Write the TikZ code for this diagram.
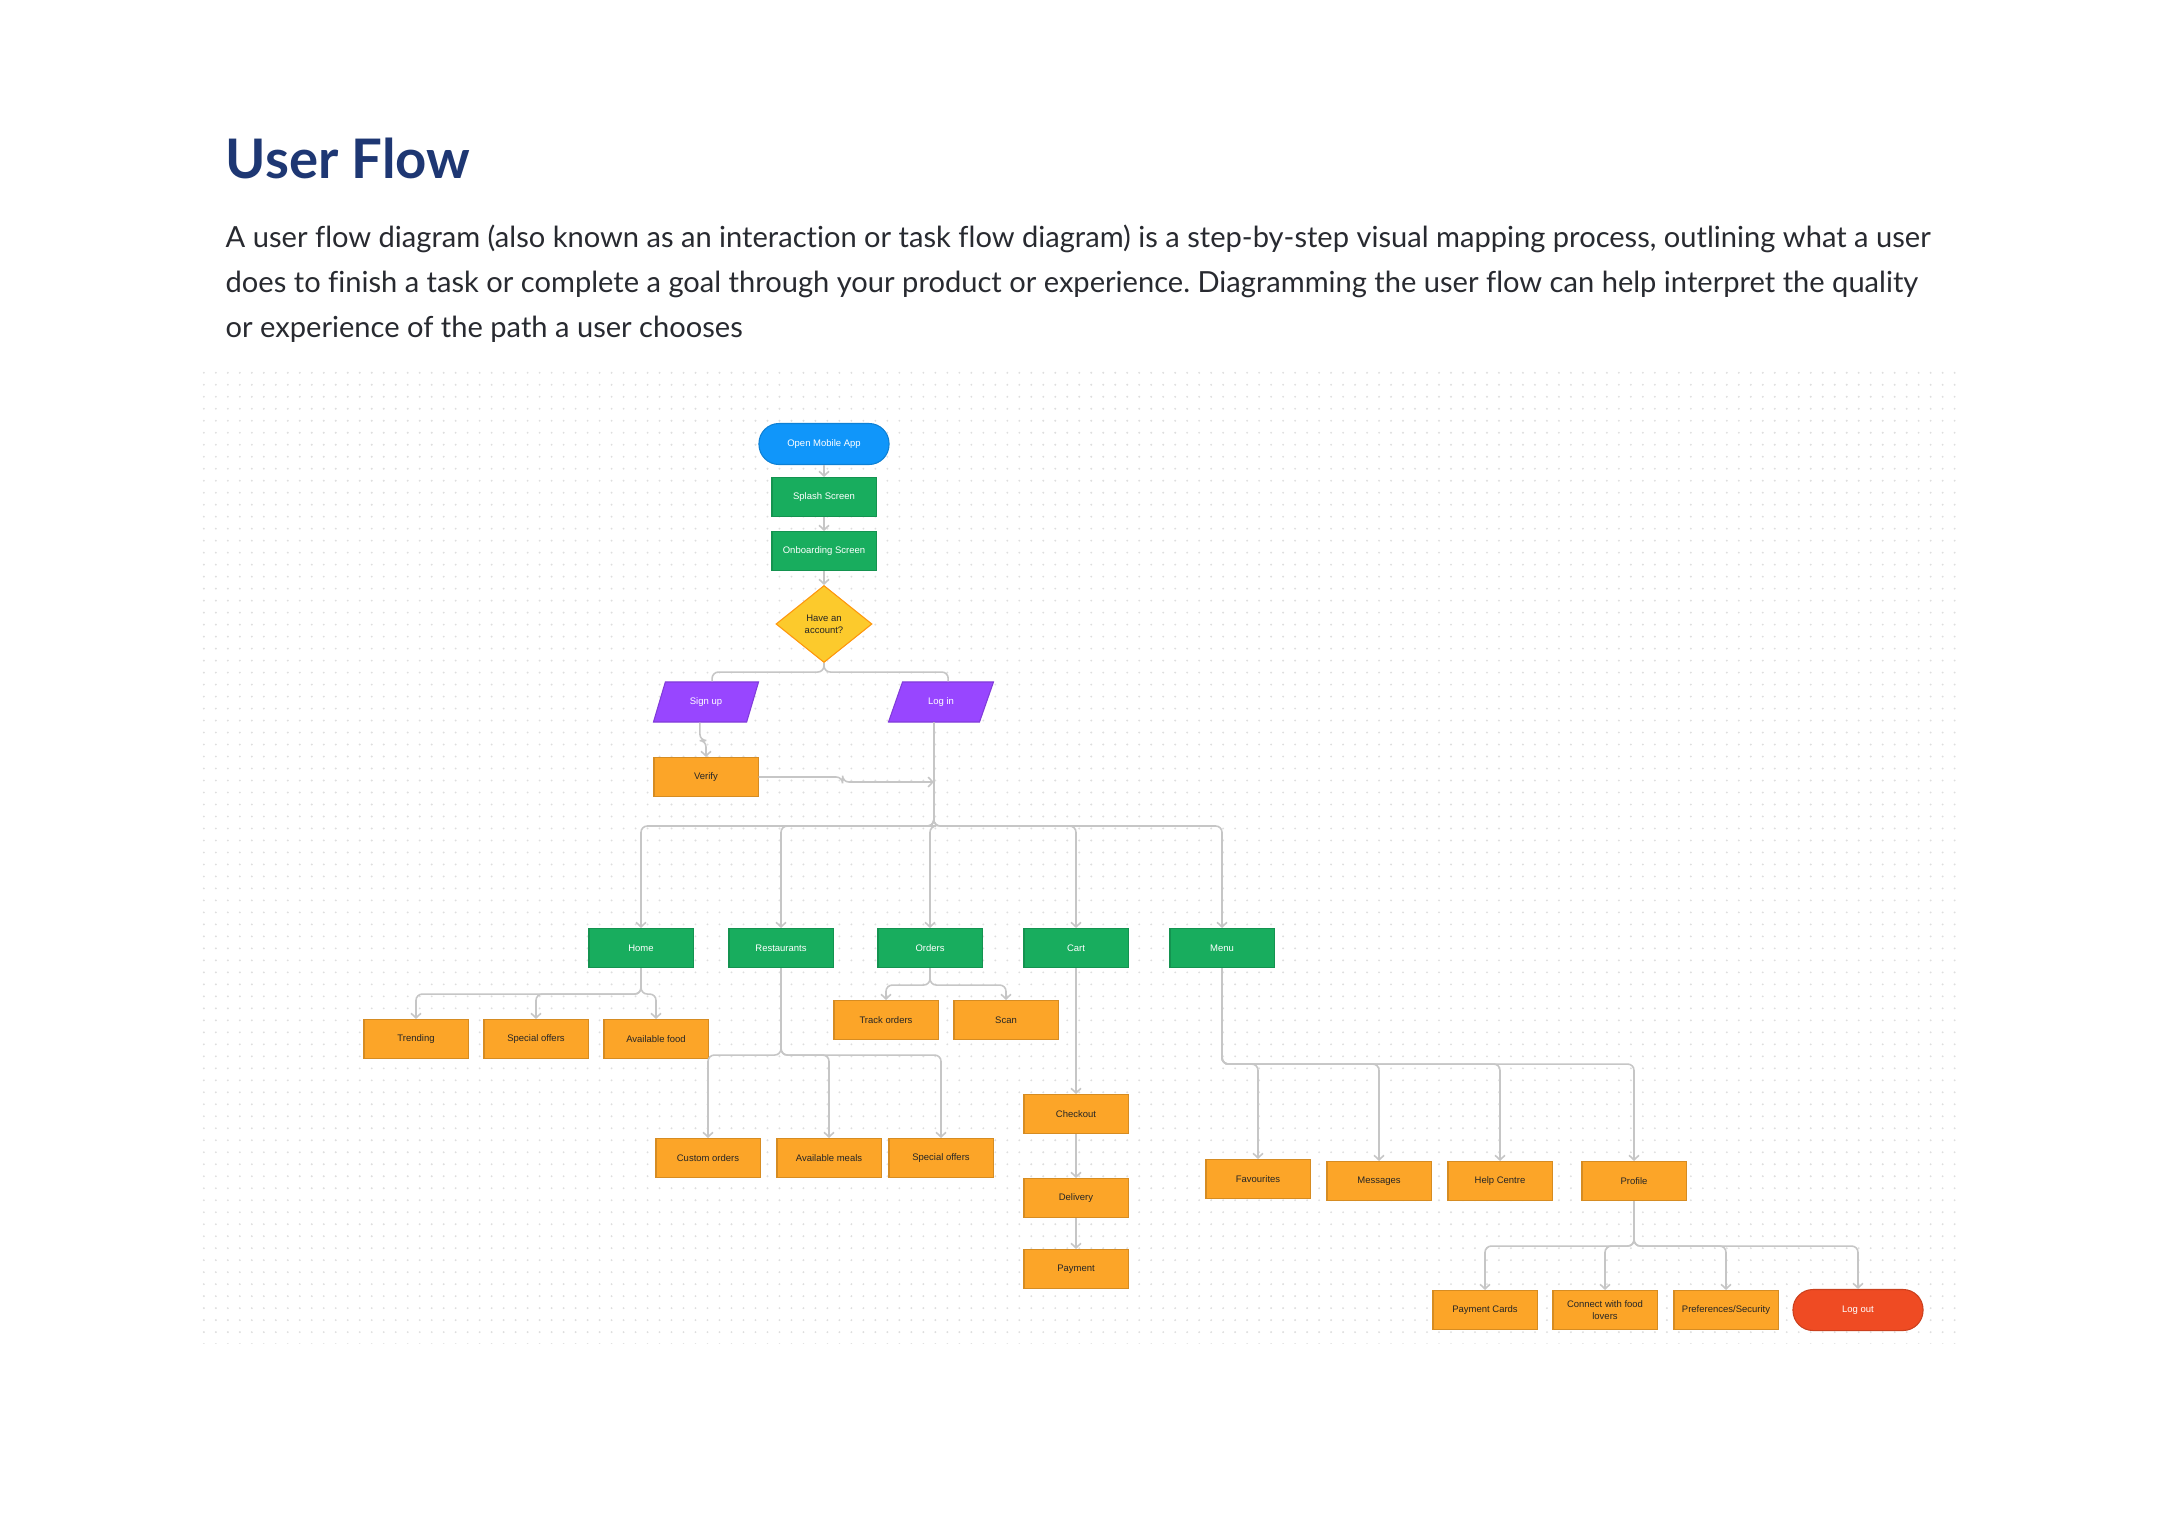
\documentclass[tikz,border=0pt]{standalone}
\usepackage{fontspec}
\setmainfont{Lato}[Ligatures=NoCommon]
\newfontfamily\boxfont{Liberation Sans}
\usepackage{xcolor}
\usepackage{tikz}
\usetikzlibrary{arrows.meta,positioning,shapes.geometric,calc,patterns.meta}
\frenchspacing
\definecolor{titleblue}{RGB}{30,55,115}
\definecolor{bodygray}{RGB}{40,42,48}
\definecolor{appblue}{RGB}{16,150,250}
\definecolor{screengreen}{RGB}{24,173,94}
\definecolor{askyellow}{RGB}{252,202,44}
\definecolor{authpurple}{RGB}{152,70,255}
\definecolor{itemorange}{RGB}{252,165,40}
\definecolor{quitred}{RGB}{239,75,35}
\definecolor{wiregray}{RGB}{198,198,198}
\definecolor{dotgray}{RGB}{222,222,222}
\tikzdeclarepattern{
  name=canvasdots,
  type=uncolored,
  bottom left={(-.5pt,-.5pt)},
  top right={(.5pt,.5pt)},
  tile size={(3.41pt,3.41pt)},
  code={\fill (0pt,0pt) circle (.3pt);}
}

\begin{document}
\begin{tikzpicture}[x=0.01cm,y=-0.01cm,
  boxtext/.style={font=\boxfont\fontsize{2.7pt}{3.3pt}\selectfont,inner sep=0pt,align=center},
  screen/.style={boxtext,rectangle,fill=screengreen,draw=screengreen!85!black,line width=0.3pt,text=white,minimum width=1.04cm,minimum height=0.39cm},
  item/.style={boxtext,rectangle,fill=itemorange,draw=itemorange!85!black,line width=0.3pt,text=black!85,minimum width=1.04cm,minimum height=0.39cm},
  terminal/.style={boxtext,rectangle,rounded corners=0.2cm,line width=0.3pt,text=white,minimum width=1.3cm,minimum height=0.41cm},
  auth/.style={boxtext,trapezium,trapezium left angle=62,trapezium right angle=118,trapezium stretches=true,fill=authpurple,draw=authpurple!85!black,line width=0.3pt,text=white,minimum width=1.05cm,minimum height=0.40cm},
  ask/.style={boxtext,diamond,fill=askyellow,draw=orange!70!askyellow,line width=0.3pt,text=black!85,minimum width=0.96cm,minimum height=0.77cm},
  bodyline/.style={anchor=base west,text=bodygray,font=\fontsize{8.27pt}{12pt}\selectfont,inner sep=0pt},
  wire/.style={draw=wiregray,line width=0.45pt,rounded corners=1.8pt},
  link/.style={wire,-{Straight Barb[length=1.3pt,width=2.8pt]}}]
\useasboundingbox[fill=white] (0,0) rectangle (2160,1536);
\fill[pattern=canvasdots,pattern color=dotgray] (193,365) rectangle (1963,1343);

\node[anchor=base west,inner sep=0pt,text=titleblue,font=\fontsize{15.5pt}{18pt}\selectfont\bfseries] (title) at (225,178) {User Flow};
\node[bodyline] (para1) at (225,247) {A user flow diagram (also known as an interaction or task flow diagram) is a step-by-step visual mapping process, outlining what a user};
\node[bodyline] (para2) at (225,292) {does to finish a task or complete a goal through your product or experience. Diagramming the user flow can help interpret the quality};
\node[bodyline] (para3) at (225,337) {or experience of the path a user chooses};

\node[terminal,fill=appblue,draw=appblue!85!black] (open) at (824,444) {Open Mobile App};
\node[screen] (splash) at (824,497) {Splash Screen};
\node[screen] (onboard) at (824,551) {Onboarding Screen};
\node[ask] (ask) at (824,624) {Have an\\account?};
\node[auth] (signup) at (706,702) {Sign up};
\node[auth] (login) at (941,702) {Log in};
\node[item] (verify) at (706,777) {Verify};

\node[screen] (home) at (641,948) {Home};
\node[screen] (rest) at (781,948) {Restaurants};
\node[screen] (orders) at (930,948) {Orders};
\node[screen] (cart) at (1076,948) {Cart};
\node[screen] (menu) at (1222,948) {Menu};

\node[item] (trend) at (416,1039) {Trending};
\node[item] (homeoffers) at (536,1039) {Special offers};
\node[item] (food) at (656,1039) {Available food};
\node[item] (track) at (886,1020) {Track orders};
\node[item] (scan) at (1006,1020) {Scan};
\node[item] (custom) at (708,1158) {Custom orders};
\node[item] (meals) at (829,1158) {Available meals};
\node[item] (restoffers) at (941,1158) {Special offers};
\node[item] (checkout) at (1076,1114) {Checkout};
\node[item] (delivery) at (1076,1198) {Delivery};
\node[item] (payment) at (1076,1269) {Payment};
\node[item] (fav) at (1258,1179) {Favourites};
\node[item] (msgs) at (1379,1181) {Messages};
\node[item] (help) at (1500,1181) {Help Centre};
\node[item] (profile) at (1634,1181) {Profile};
\node[item] (cards) at (1485,1310) {Payment Cards};
\node[item] (connect) at (1605,1310) {Connect with food\\lovers};
\node[item] (prefs) at (1726,1310) {Preferences/Security};
\node[terminal,fill=quitred,draw=quitred!85!black] (logout) at (1858,1310) {Log out};

\coordinate (stop) at ($(signup.top left corner)!.5!(signup.top right corner)$);
\coordinate (sbot) at ($(signup.bottom left corner)!.5!(signup.bottom right corner)$);
\coordinate (ltop) at ($(login.top left corner)!.5!(login.top right corner)$);
\coordinate (lbot) at ($(login.bottom left corner)!.5!(login.bottom right corner)$);
\coordinate (hub) at (lbot |- 0,826);
\coordinate (merge) at (lbot |- 0,782);

\draw[link] (open) -- (splash);
\draw[link] (splash) -- (onboard);
\draw[link] (onboard) -- (ask);
\draw[wire] (ask.south) -- ++(0,9) -| (stop);
\draw[wire] (ask.south) -- ++(0,9) -| (ltop);
\draw[link] (sbot) -- ++(0,18) -| (verify.north);
\draw[link] (verify.east) -- ++(84,0) |- (merge);
\foreach \n in {home,rest,orders,cart,menu}
  \draw[link] (lbot) -- (hub) -| (\n.north);
\foreach \n in {trend,homeoffers,food}
  \draw[link] (home.south) -- ++(0,26) -| (\n.north);
\foreach \n in {track,scan}
  \draw[link] (orders.south) -- ++(0,17) -| (\n.north);
\foreach \n in {custom,meals,restoffers}
  \draw[link] (rest.south) -- ++(0,87) -| (\n.north);
\draw[link] (cart) -- (checkout);
\draw[link] (checkout) -- (delivery);
\draw[link] (delivery) -- (payment);
\foreach \n in {fav,msgs,help,profile}
  \draw[link] (menu.south) -- ++(0,96) -| (\n.north);
\foreach \n in {cards,connect,prefs,logout}
  \draw[link] (profile.south) -- ++(0,45) -| (\n.north);
\end{tikzpicture}
\end{document}
